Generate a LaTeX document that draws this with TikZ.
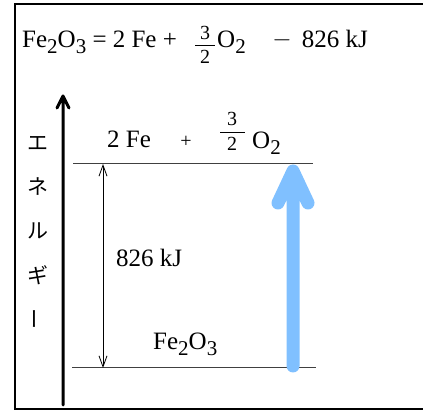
\documentclass[tikz,border=0pt]{standalone}
\usepackage{fontspec}
\setmainfont{Liberation Serif}
\newfontfamily\jpfont{Noto Sans CJK JP}
\usetikzlibrary{arrows.meta}
\definecolor{skyarrow}{RGB}{128,192,255}
\newcommand{\mysub}[1]{\raisebox{-6pt}{\fontsize{21}{21}\selectfont #1}}
\begin{document}
\begin{tikzpicture}[x=1pt,y=-1pt,
  lbl/.style={inner sep=0pt, font=\fontsize{25}{30}\selectfont},
  fracdigit/.style={inner sep=0pt, font=\fontsize{20}{20}\selectfont},
  jp/.style={inner sep=0pt, font=\jpfont\fontsize{21}{21}\selectfont},
  level/.style={draw=black!75, line width=1pt},
  fracbar/.style={line width=0.9pt},
  fatarrow/.style={line cap=round, line join=round}]
\useasboundingbox (0,0) rectangle (423,411);
% frame
\draw[line width=1.8pt] (424,4) -- (15,4) -- (15,409) -- (424,409);
% title
\node[lbl, anchor=base west] (t1) at (22,48) {Fe\mysub{2}O\mysub{3} = 2 Fe +};
\node[fracdigit] (tnum) at (205,33) {3};
\node[fracdigit] (tden) at (205,57) {2};
\coordinate (tbarL) at (195,45);
\coordinate (tbarR) at (215,45);
\draw[fracbar] (tbarL) -- (tbarR);
\node[lbl, anchor=base west] (t2) at (217,48) {O\mysub{2}};
\node[lbl, anchor=base] (tminus) at (282,47) {$-$};
\node[lbl, anchor=base east] (t3) at (368,48) {826 kJ};
% energy axis
\coordinate (axisB) at (63,405);
\coordinate (axisT) at (63,96);
\draw[fatarrow, line width=3pt] (axisB) -- (axisT) (axisT) ++(-6,12) -- (axisT) -- ++(6,12);
% vertical label
\node[jp] (e1) at (38,143) {エ};
\node[jp] (e2) at (38,187) {ネ};
\node[jp] (e3) at (38,231) {ル};
\node[jp] (e4) at (38,275) {ギ};
\node[jp, rotate=90] (e5) at (38,319) {ー};
% levels
\coordinate (hiL) at (73,164);
\coordinate (hiR) at (313,164);
\coordinate (loL) at (72,368);
\coordinate (loR) at (316,368);
\draw[level] (hiL) -- (hiR);
\draw[level] (loL) -- (loR);
% level labels
\node[lbl, anchor=base west] (fe) at (107,148) {2 Fe};
\node[inner sep=0pt, font=\fontsize{20}{20}\selectfont] (plus) at (186,142) {+};
\node[fracdigit] (num) at (232,119) {3};
\node[fracdigit] (den) at (232,144) {2};
\coordinate (barL) at (220,132);
\coordinate (barR) at (245,132);
\draw[fracbar] (barL) -- (barR);
\node[lbl, anchor=base west] (o2) at (252,149) {O\mysub{2}};
\node[lbl, anchor=base west] (kj) at (116,267) {826 kJ};
\node[lbl, anchor=base west] (fe2o3) at (153,350) {Fe\mysub{2}O\mysub{3}};
% energy difference arrow
\coordinate (dT) at (103,164);
\coordinate (dB) at (103,368);
\draw[line width=0.8pt, {Straight Barb[length=11pt,width=8pt]}-{Straight Barb[length=11pt,width=8pt]}] (dT) -- (dB);
% blue arrow
\coordinate (bB) at (293,366);
\coordinate (bT) at (293,171);
\draw[fatarrow, skyarrow, line width=13pt] (bB) -- (bT) (bT) ++(-15,32) -- (bT) -- ++(15,32);
\end{tikzpicture}
\end{document}
